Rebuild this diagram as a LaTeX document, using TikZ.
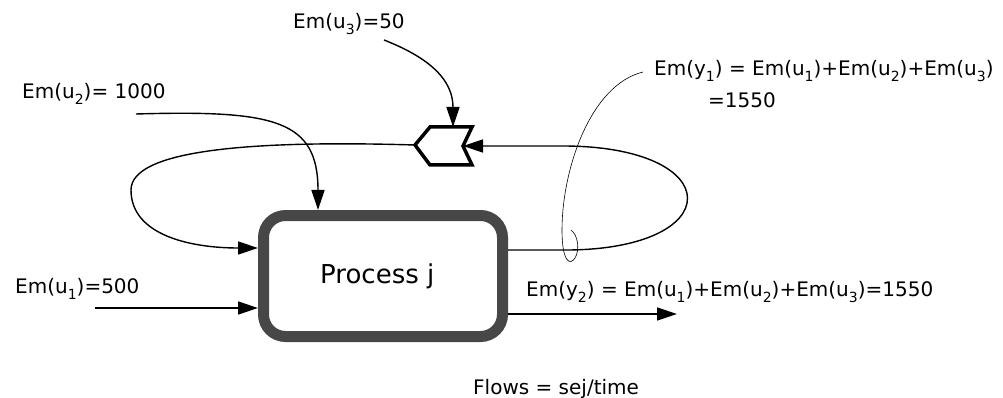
\documentclass[tikz,border=0pt]{standalone}
\usepackage{fontspec}
\setmainfont{DejaVu Sans}
\usetikzlibrary{arrows.meta}
\newcommand\sbs[1]{\raisebox{-6pt}{\fontsize{14}{14}\selectfont #1}}
\begin{document}
\begin{tikzpicture}[x=1pt,y=-1pt,
  flow/.style={line width=1.4pt,-{Triangle[length=20pt,width=13pt]}},
  lbl/.style={inner sep=0pt,anchor=base west,font=\fontsize{20}{24}\selectfont},
  procbox/.style={draw=black!72,line width=11pt,rounded corners=22pt,minimum width=239pt,minimum height=121pt,inner sep=0pt},
  leader/.style={line width=0.6pt},
  store/.style={line width=3.5pt,line join=miter}]
\useasboundingbox (0,0) rectangle (1003,398);
% process box
\node[procbox] (proc) at (383,276) {};
\node[inner sep=0pt,anchor=base west,font=\fontsize{26}{30}\selectfont] (ptext) at (320,283) {Process j};
% storage / addition symbol
\coordinate (stL) at (415,145);
\coordinate (stN) at (463,146);
\coordinate (stT) at (453,127);
\draw[store] (stL) -- (430,127) -- (472,127) -- (stN) -- (472,165) -- (430,165) -- cycle;
% labels
\node[lbl] (lu3) at (293,29) {Em(u\sbs{3})=50};
\node[lbl] (lu2) at (22,99) {Em(u\sbs{2})= 1000};
\node[lbl] (lu1) at (15,293) {Em(u\sbs{1})=500};
\node[lbl] (ly1) at (654,76) {Em(y\sbs{1}) = Em(u\sbs{1})+Em(u\sbs{2})+Em(u\sbs{3})};
\node[lbl] (ly1b) at (708,108) {=1550};
\node[lbl] (ly2) at (526,296) {Em(y\sbs{2}) = Em(u\sbs{1})+Em(u\sbs{2})+Em(u\sbs{3})=1550};
\node[lbl] (flows) at (473,394) {Flows = sej/time};
% coordinates for free ends
\coordinate (u3s) at (384,40);
\coordinate (u2s) at (136,114);
\coordinate (u1s) at (95,308);
\coordinate (fb) at (0,248);
\coordinate (y2e) at (677,314);
\coordinate (lpb) at (560,250);
\coordinate (lpt) at (560,146);
\coordinate (ld) at (643,72);
% connectors
\draw[flow] (u3s) .. controls (430,58) and (453,80) .. (stT);
\draw[flow] (u2s) .. controls (275,110) and (318,120) .. (proc.north -| 318,0);
\draw[flow] (u1s) -- (u1s -| proc.west);
\draw[flow] (stL) .. controls (250,140) and (131,150) .. (131,190)
  .. controls (131,235) and (190,248) .. (fb -| proc.west);
\draw[flow] (lpb -| proc.east) -- (lpb) .. controls (730,252) and (730,145) .. (lpt) -- (stN);
\draw[flow] (y2e -| proc.east) -- (y2e);
% leader line
\draw[leader] (ld) .. controls (590,85) and (562,170) .. (562,230)
  .. controls (562,262) and (570,266) .. (575,258)
  .. controls (580,250) and (578,235) .. (571,230);
\end{tikzpicture}
\end{document}
